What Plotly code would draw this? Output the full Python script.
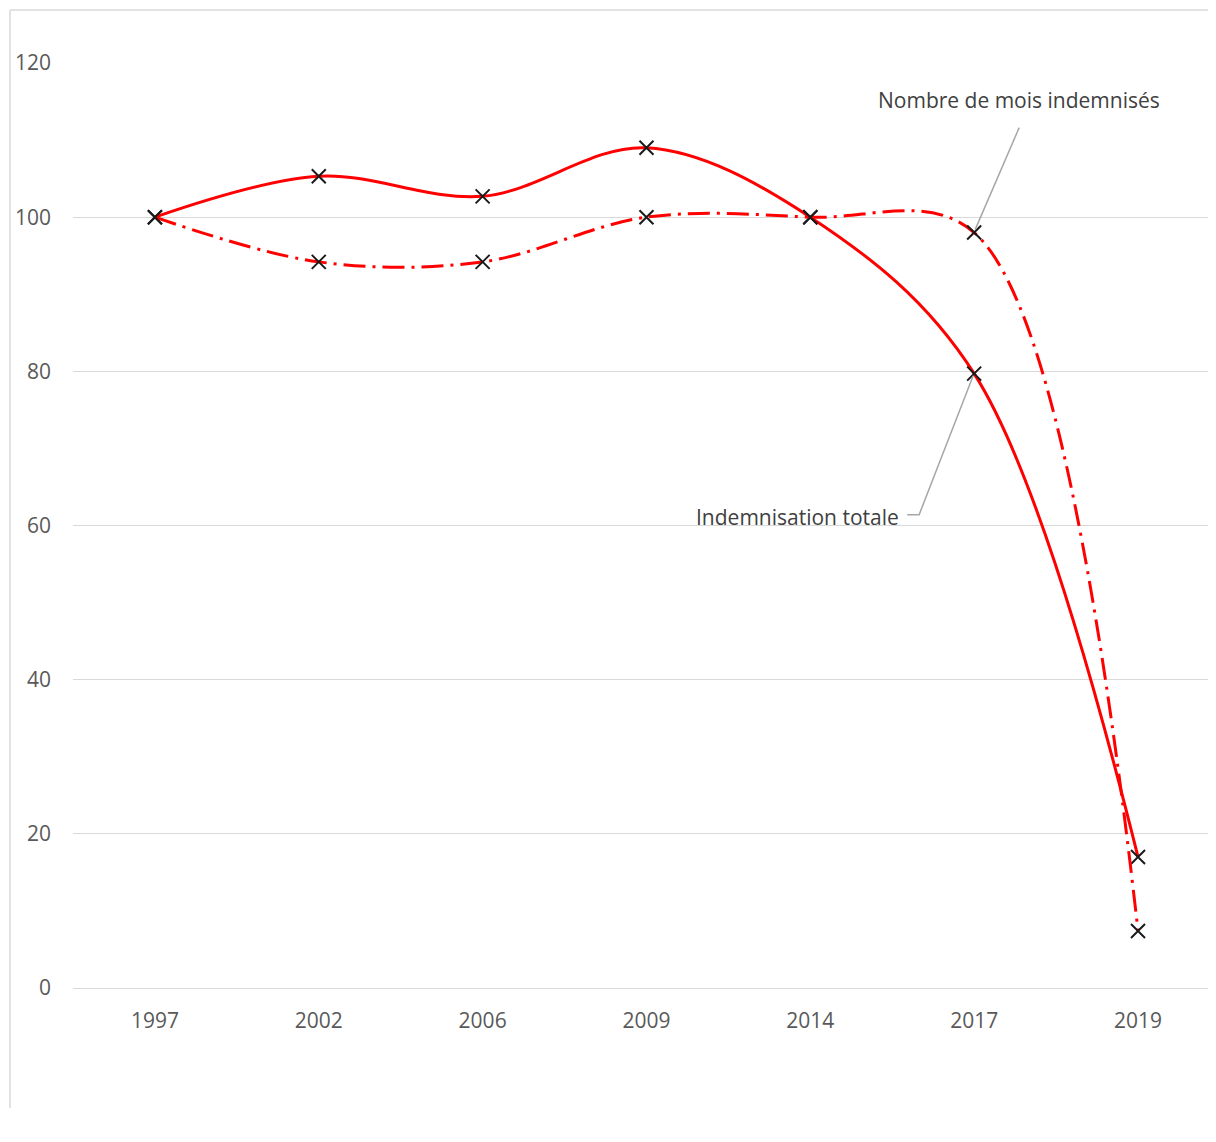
import plotly.graph_objects as go

years = ["1997", "2002", "2006", "2009", "2014", "2017", "2019"]
indemnisation_totale = [100, 105.3, 102.7, 109.0, 100, 79.7, 17.0]
nombre_mois = [100, 94.2, 94.2, 100, 100, 98.0, 7.4]
y_ticks = [0, 20, 40, 60, 80, 100, 120]

xi = list(range(len(years)))
FONT = "Open Sans"
RED = "#FF0000"
GRID = "#d9d9d9"

W, H = 1208, 1100
L, T, PW, PH = 65, 55, 1143, 925

fig = go.Figure()
fig.add_trace(go.Scatter(
    x=xi, y=indemnisation_totale, mode="lines+markers", name="Indemnisation totale",
    line=dict(color=RED, width=3, shape="spline", smoothing=1),
    marker=dict(symbol="x-thin", size=14, line=dict(color="#1a1a1a", width=2)),
    showlegend=False,
))
fig.add_trace(go.Scatter(
    x=xi, y=nombre_mois, mode="lines+markers", name="Nombre de mois indemnisés",
    line=dict(color=RED, width=3, shape="spline", smoothing=1, dash="22px,7px,3px,7px"),
    marker=dict(symbol="x-thin", size=14, line=dict(color="#1a1a1a", width=2)),
    showlegend=False,
))

i17 = years.index("2017")
# leader line for "Nombre de mois indemnisés"
fig.add_shape(type="path", xref="x", yref="y", xsizemode="pixel", ysizemode="pixel",
              xanchor=i17, yanchor=nombre_mois[i17],
              path="M 45,105 L 1,3", line=dict(color="#a6a6a6", width=1.5))
# leader line for "Indemnisation totale"
fig.add_shape(type="path", xref="x", yref="y", xsizemode="pixel", ysizemode="pixel",
              xanchor=i17, yanchor=indemnisation_totale[i17],
              path="M -67,-141 L -55,-141 L -1,-2", line=dict(color="#a6a6a6", width=1.5))

fig.add_annotation(x=i17, y=nombre_mois[i17], xref="x", yref="y",
                   text="Nombre de mois indemnisés", showarrow=False,
                   xshift=45, yshift=133,
                   font=dict(family=FONT, size=21, color="#404040"))
fig.add_annotation(x=i17, y=indemnisation_totale[i17], xref="x", yref="y",
                   text="Indemnisation totale", showarrow=False,
                   xshift=-177, yshift=-143,
                   font=dict(family=FONT, size=21, color="#404040"))

# outer chart frame (left and top edges visible)
fx = (2 - L) / PW
fy = (T + PH - 2) / PH
fig.add_shape(type="line", xref="paper", yref="paper",
              x0=fx, x1=1.01, y0=fy, y1=fy, line=dict(color=GRID, width=1.5))
fig.add_shape(type="line", xref="paper", yref="paper",
              x0=fx, x1=fx, y0=fy, y1=-0.2, line=dict(color=GRID, width=1.5))

fig.update_layout(
    width=W, height=H,
    margin=dict(l=L, r=W - L - PW, t=T, b=H - T - PH),
    paper_bgcolor="white", plot_bgcolor="white",
    font=dict(family=FONT, size=21, color="#595959"),
    xaxis=dict(
        range=[-0.5, 6.476], tickvals=xi, ticktext=years,
        showgrid=False, zeroline=False, showline=False, ticks="",
        ticklabelstandoff=18,
        tickfont=dict(family=FONT, size=21, color="#595959"),
    ),
    yaxis=dict(
        range=[0, 120], tickvals=y_ticks, showgrid=True, gridcolor=GRID, gridwidth=1.3,
        zeroline=True, zerolinecolor=GRID, zerolinewidth=1.3, showline=False, ticks="",
        ticklabelstandoff=21,
        tickfont=dict(family=FONT, size=21, color="#595959"),
    ),
)

fig.write_html("out.html")
